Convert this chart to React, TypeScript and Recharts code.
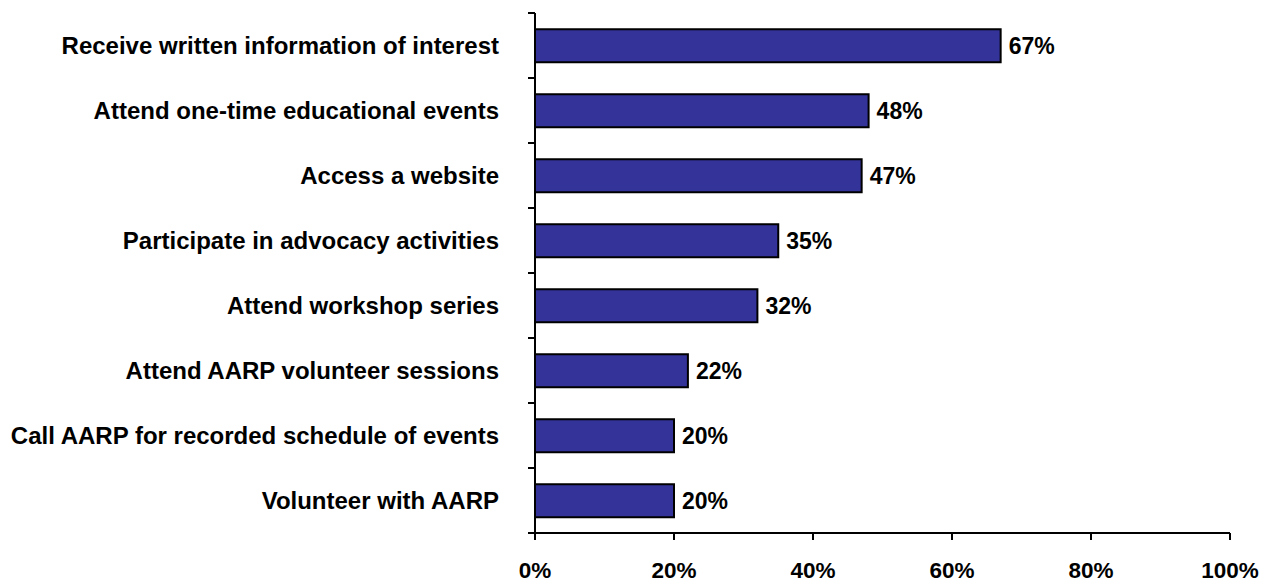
import { BarChart, Bar, XAxis, YAxis, LabelList } from "recharts";

const categories = [
  "Receive written information of interest",
  "Attend one-time educational events",
  "Access a website",
  "Participate in advocacy activities",
  "Attend workshop series",
  "Attend AARP volunteer sessions",
  "Call AARP for recorded schedule of events",
  "Volunteer with AARP",
];
const values = [67, 48, 47, 35, 32, 22, 20, 20];
const xTicks = [0, 20, 40, 60, 80, 100];
// boundaries between the 8 category bands, for the left axis tick marks
const bandTicks = [0, 1, 2, 3, 4, 5, 6, 7, 8];

const data = categories.map((name, i) => ({ name, value: values[i] }));

const FONT = "Arial, 'Liberation Sans', sans-serif";
const base = { fontWeight: 700, fill: "#000", fontFamily: FONT };

export default function App() {
  return (
    <BarChart
      width={1255}
      height={574}
      layout="vertical"
      data={data}
      barCategoryGap="25%"
      margin={{ top: 5, right: 33, bottom: 0, left: 0 }}
    >
      <XAxis
        type="number"
        domain={[0, 100]}
        ticks={xTicks}
        tickFormatter={(v) => `${v}%`}
        tick={{ ...base, fontSize: 22.5 }}
        height={49}
        tickSize={7}
        tickMargin={22}
        axisLine={{ stroke: "#000", strokeWidth: 2 }}
        tickLine={{ stroke: "#000", strokeWidth: 2 }}
      />
      <YAxis
        yAxisId="cat"
        type="category"
        dataKey="name"
        width={526}
        tick={{ ...base, fontSize: 24 }}
        tickSize={0}
        tickMargin={35}
        axisLine={false}
        tickLine={false}
        interval={0}
      />
      <YAxis
        yAxisId="bands"
        type="number"
        dataKey="value"
        domain={[0, 8]}
        allowDataOverflow
        ticks={bandTicks}
        interval={0}
        width={1}
        tickFormatter={() => ""}
        tickSize={7}
        axisLine={{ stroke: "#000", strokeWidth: 2 }}
        tickLine={{ stroke: "#000", strokeWidth: 2 }}
      />
      <Bar
        yAxisId="cat"
        dataKey="value"
        fill="#333399"
        stroke="#000"
        strokeWidth={2}
        isAnimationActive={false}
      >
        <LabelList
          dataKey="value"
          position="right"
          offset={8}
          formatter={(v: number) => `${v}%`}
          style={{ ...base, fontSize: 23 }}
        />
      </Bar>
    </BarChart>
  );
}
